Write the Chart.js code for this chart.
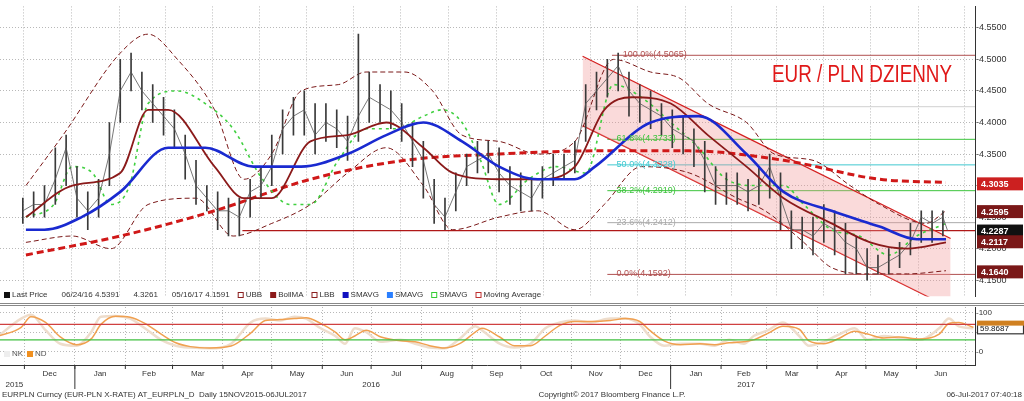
<!DOCTYPE html>
<html><head><meta charset="utf-8">
<script src="https://cdn.jsdelivr.net/npm/chart.js@4/dist/chart.umd.min.js"></script>
<style>
body{margin:0;background:#fff;width:1024px;height:401px;overflow:hidden;font-family:"Liberation Sans",Arial,sans-serif}
#a{position:absolute;left:0;top:0}
#b{position:absolute;left:0;top:303px}
</style></head><body>
<canvas id="a" width="1024" height="303"></canvas>
<canvas id="b" width="1024" height="98"></canvas>
<script>
// ---- data (x = days since 2015-11-15) ----
const weekStart = '2015-11-15';
const weeklyClose = [4.26,4.27,4.27,4.31,4.36,4.28,4.26,4.28,4.35,4.45,4.48,4.45,4.43,4.41,4.39,4.35,4.30,4.28,4.26,4.26,
 4.25,4.29,4.30,4.33,4.39,4.41,4.42,4.38,4.40,4.39,4.37,4.41,4.44,4.43,4.42,4.40,4.37,4.34,4.27,4.25,
 4.29,4.33,4.34,4.35,4.32,4.30,4.29,4.28,4.31,4.32,4.33,4.34,4.43,4.45,4.47,4.49,4.45,4.43,4.42,4.41,
 4.39,4.38,4.37,4.34,4.30,4.30,4.30,4.29,4.30,4.33,4.28,4.23,4.23,4.22,4.24,4.23,4.21,4.20,4.17,4.17,
 4.18,4.19,4.21,4.25,4.24,4.25];
const weeklyHigh = [4.28,4.29,4.30,4.36,4.38,4.33,4.29,4.31,4.40,4.50,4.51,4.48,4.46,4.44,4.42,4.38,4.34,4.30,4.29,4.28,
 4.28,4.31,4.33,4.38,4.42,4.44,4.45,4.43,4.43,4.42,4.41,4.54,4.48,4.46,4.45,4.43,4.40,4.37,4.31,4.28,
 4.32,4.35,4.37,4.37,4.36,4.33,4.32,4.31,4.33,4.35,4.35,4.37,4.46,4.48,4.50,4.51,4.48,4.46,4.45,4.43,
 4.42,4.41,4.39,4.37,4.33,4.32,4.32,4.31,4.33,4.35,4.32,4.26,4.25,4.25,4.27,4.26,4.24,4.22,4.20,4.19,
 4.20,4.21,4.24,4.26,4.26,4.26];
const weeklyLow = [4.24,4.25,4.25,4.27,4.30,4.25,4.23,4.25,4.30,4.40,4.45,4.42,4.40,4.38,4.36,4.31,4.27,4.26,4.23,4.22,
 4.22,4.25,4.28,4.30,4.35,4.38,4.38,4.35,4.37,4.36,4.34,4.37,4.40,4.40,4.39,4.37,4.33,4.28,4.24,4.23,
 4.26,4.30,4.32,4.32,4.29,4.27,4.26,4.26,4.28,4.30,4.31,4.32,4.37,4.42,4.44,4.45,4.41,4.40,4.39,4.38,
 4.36,4.35,4.33,4.29,4.27,4.27,4.27,4.26,4.27,4.28,4.23,4.20,4.20,4.19,4.21,4.19,4.16,4.16,4.15,4.16,
 4.16,4.17,4.19,4.21,4.21,4.22];
const lastDay = 598, lastPrice = 4.2287;

const smaShortDays = [2,32,63,81,94,124,143,161,186,210,235,259,278,308,333,357,376,394,419,443,468,492,523,548,572,597];
const smaShort = [4.25,4.30,4.32,4.42,4.42,4.33,4.28,4.28,4.37,4.38,4.40,4.36,4.32,4.31,4.31,4.33,4.42,4.44,4.43,4.38,4.33,4.28,4.24,4.21,4.20,4.21];
const smaMidDays = [2,14,38,63,94,118,149,180,210,235,259,284,308,333,357,370,406,437,468,492,523,554,578,597];
const smaMid = [4.23,4.23,4.25,4.29,4.36,4.36,4.33,4.33,4.35,4.38,4.40,4.37,4.33,4.31,4.31,4.33,4.40,4.41,4.35,4.29,4.26,4.235,4.215,4.215];
const smaLongDays = [2,63,124,186,247,308,370,431,492,554,597];
const smaLong = [4.19,4.22,4.26,4.31,4.34,4.35,4.355,4.355,4.34,4.31,4.305];
const maFastDays = [2,20,32,45,57,69,81,100,118,136,155,173,186,204,222,241,259,271,284,296,308,327,345,364,382,400,419,437,455,474,492,505,523,541,560,578,597];
const maFast = [4.25,4.27,4.33,4.32,4.27,4.30,4.43,4.45,4.43,4.39,4.31,4.27,4.27,4.34,4.39,4.39,4.41,4.42,4.40,4.34,4.27,4.31,4.33,4.32,4.46,4.44,4.40,4.36,4.31,4.30,4.30,4.27,4.23,4.22,4.19,4.22,4.24];
const bbUpDays = [2,26,63,81,100,124,143,161,180,204,222,247,265,284,308,333,357,382,406,425,443,468,486,511,535,554,584,597];
const bbUp = [4.30,4.38,4.51,4.54,4.50,4.42,4.31,4.35,4.45,4.46,4.48,4.48,4.45,4.38,4.37,4.35,4.37,4.50,4.48,4.47,4.43,4.40,4.35,4.34,4.30,4.27,4.24,4.26];
const bbLowDays = [2,32,57,81,112,136,161,186,210,235,259,278,308,333,357,376,400,431,462,480,505,523,548,572,597];
const bbLow = [4.21,4.22,4.20,4.27,4.28,4.22,4.24,4.27,4.32,4.36,4.30,4.23,4.25,4.26,4.23,4.27,4.33,4.32,4.28,4.26,4.21,4.17,4.16,4.16,4.165];
const channelDays = [362,600];
const channelUpper = [4.505,4.216];
const channelLower = [4.395,4.106];
const fibLevels = [4.5065,4.3733,4.3328,4.2919,4.2412,4.1592];
const fibLabels = ['100.0%(4.5065)','61.8%(4.3733)','50.0%(4.3328)','38.2%(4.2919)','23.6%(4.2412)','0.0%(4.1592)'];
const fibColors = ['#b05050','#3cc43c','#40c8d0','#3cc43c','#aaaaaa','#b05050'];
const supportLevel = 4.2287, supportStartDay = 142;
const yTicks = [4.15,4.20,4.25,4.30,4.35,4.40,4.45,4.50,4.55];
const tagValues = [4.3035,4.2595,4.2287,4.2117,4.1640];
const tagColors = ['#cc2020','#7a1818','#111111','#7a1818','#7a1818'];
const stochDays = [0,14,20,29,38,48,57,63,72,81,90,100,109,118,130,143,155,164,173,182,189,198,207,213,219,226,235,247,256,265,274,284,293,297,308,317,327,336,345,354,364,376,385,394,400,409,419,431,440,449,458,464,473,482,492,498,507,517,526,534,544,553,566,578,584,590,599];
const stochK = [40,85,95,55,20,15,50,90,92,85,60,30,15,10,8,20,75,85,80,90,85,60,40,20,60,50,25,30,20,10,8,35,65,55,20,10,20,60,75,80,75,85,85,70,40,15,20,20,15,30,20,40,55,75,40,15,25,45,60,30,40,35,30,60,85,65,60];
const monthNames = ['Dec','Jan','Feb','Mar','Apr','May','Jun','Jul','Aug','Sep','Oct','Nov','Dec','Jan','Feb','Mar','Apr','May','Jun'];
const monthStarts = ['2015-12-01','2016-01-01','2016-02-01','2016-03-01','2016-04-01','2016-05-01','2016-06-01','2016-07-01','2016-08-01','2016-09-01','2016-10-01','2016-11-01','2016-12-01','2017-01-01','2017-02-01','2017-03-01','2017-04-01','2017-05-01','2017-06-01','2017-07-01'];
const yearLabels = ['2015','2016','2017'];

// ---- helpers ----
const day = s => (Date.parse(s)-Date.parse(weekStart))/864e5;
const pts = (xs,ys)=>xs.map((x,i)=>({x,y:ys[i]}));
const closePts = weeklyClose.map((v,i)=>({x:i*7,y:v})).concat([{x:lastDay,y:lastPrice}]);
const rangeBars = weeklyClose.map((v,i)=>({x:i*7,y:[weeklyLow[i],weeklyHigh[i]]}));
const mStarts = monthStarts.map(day);
const XMIN=1, XMAX=600, RW=49;
const fontSm = '8px "Liberation Sans", Arial';
const gridC = '#b8b8b8';

const line = (data,color,w,dash,extra)=>Object.assign({type:'line',data,borderColor:color,borderWidth:w,borderDash:dash||[],pointRadius:0,tension:0.3,cubicInterpolationMode:'monotone',fill:false},extra||{});

const mainPlugin = {
 id:'mainP',
 beforeDatasetsDraw(c){
  const {ctx,scales:{x,y},chartArea:a}=c;
  ctx.save();
  fibLevels.forEach((v,i)=>{ctx.strokeStyle=fibColors[i];ctx.lineWidth=1;ctx.beginPath();
   ctx.moveTo(x.getPixelForValue(i==0?381:378),y.getPixelForValue(v));ctx.lineTo(a.right,y.getPixelForValue(v));ctx.stroke();});
  ctx.strokeStyle='#d0d0d0';ctx.beginPath();ctx.moveTo(x.getPixelForValue(365),y.getPixelForValue(4.425));ctx.lineTo(a.right,y.getPixelForValue(4.425));ctx.stroke();
  ctx.strokeStyle='#b01818';ctx.lineWidth=1.3;ctx.beginPath();ctx.moveTo(x.getPixelForValue(supportStartDay),y.getPixelForValue(supportLevel));ctx.lineTo(a.right,y.getPixelForValue(supportLevel));ctx.stroke();
  ctx.restore();
 },
 afterDraw(c){
  const {ctx,scales:{x,y},chartArea:a}=c;
  ctx.save();
  ctx.font='9px "Liberation Sans", Arial';ctx.textBaseline='bottom';
  fibLabels.forEach((t,i)=>{ctx.fillStyle=i==0?'#b05050':fibColors[i];ctx.fillText(t,x.getPixelForValue(i==0?388:384),y.getPixelForValue(fibLevels[i])+4);});
  ctx.fillStyle='#e01818';ctx.font='22px "Liberation Sans", Arial';ctx.textBaseline='middle';
  const tt='EUR / PLN DZIENNY', tw=ctx.measureText(tt).width;
  ctx.save();ctx.translate(772,75);ctx.scale(180/tw,1.1);ctx.fillText(tt,0,0);ctx.restore();
  ctx.font='bold 9px "Liberation Sans", Arial';
  tagValues.forEach((v,i)=>{const py=y.getPixelForValue(v);ctx.fillStyle=tagColors[i];ctx.fillRect(a.right+2,py-6,46,13);
   ctx.fillStyle='#fff';ctx.textAlign='left';ctx.fillText(v.toFixed(4),a.right+6,py+1);});
  ctx.font=fontSm;ctx.textAlign='left';ctx.textBaseline='middle';
  const items=[['Last Price','#111'],['06/24/16 4.5391',null],['4.3261',null],['05/16/17 4.1591',null],['UBB','#fff','#8b2020'],['BollMA','#8b1a1a'],['LBB','#fff','#8b2020'],['SMAVG','#1010c0'],['SMAVG','#2a7fff'],['SMAVG','#fff','#3c3'],['Moving Average','#fff','#c03030']];
  let px=4;const ly=295;
  items.forEach(it=>{if(it[1]){ctx.fillStyle=it[1];ctx.fillRect(px,ly-3,6,6);if(it[2]){ctx.strokeStyle=it[2];ctx.strokeRect(px+.5,ly-2.5,5,5);}px+=8;}else{px+=6;}
   ctx.fillStyle='#333';ctx.fillText(it[0],px,ly);px+=ctx.measureText(it[0]).width+8;});
  ctx.restore();
 }
};

new Chart(document.getElementById('a'),{
 data:{datasets:[
  line(pts(smaMidDays,smaMid),'#1a2ad0',2.6),
  line(pts(smaShortDays,smaShort),'#8b1a1a',1.8),
  line(closePts,'#555',0.8,[],{tension:0,cubicInterpolationMode:'default'}),
  {type:'bar',data:rangeBars,backgroundColor:'#3a3a3a',barThickness:1,grouped:false},
  line(pts(maFastDays,maFast),'#40d040',1.6,[3,4]),
  line(pts(smaLongDays,smaLong),'#d01818',3,[7,4]),
  line(pts(bbUpDays,bbUp),'#7a1818',1,[5,3]),
  line(pts(bbLowDays,bbLow),'#7a1818',1,[5,3]),
  line(pts(channelDays,channelUpper),'#d42020',1.2,[],{tension:0,fill:'+1',backgroundColor:'rgba(240,150,150,0.35)'}),
  line(pts(channelDays,channelLower),'#d42020',1.2,[],{tension:0}),
 ]},
 options:{responsive:false,animation:false,
  layout:{padding:0},
  plugins:{legend:{display:false},tooltip:{enabled:false}},
  scales:{
   x:{type:'linear',min:XMIN,max:XMAX,
     afterBuildTicks:s=>{s.ticks=mStarts.map(v=>({value:v}));},
     ticks:{display:false},grid:{color:gridC,drawTicks:false},border:{display:false,dash:[1,2]}},
   y:{position:'right',min:4.124,max:4.584,
     afterBuildTicks:s=>{s.ticks=yTicks.map(v=>({value:v}));},
     afterFit:s=>{s.width=RW;},
     ticks:{callback:v=>'-'+v.toFixed(4),font:{size:9},color:'#333',padding:1},
     grid:{color:gridC,drawTicks:false},border:{color:'#333',dash:[1,2]}}
  }},
 plugins:[mainPlugin]
});

const oscPlugin={id:'oscP',
 beforeDraw(c){const{ctx}=c;ctx.save();ctx.fillStyle='#888';ctx.fillRect(0,0,1024,1);ctx.fillRect(0,2,1024,1);ctx.restore();},
 afterDraw(c){
  const {ctx,scales:{x,y},chartArea:a}=c;
  ctx.save();
  ctx.strokeStyle='#333';ctx.beginPath();ctx.moveTo(a.right+.5,a.top);ctx.lineTo(a.right+.5,a.bottom);ctx.stroke();
  ctx.strokeStyle='#d04040';ctx.lineWidth=1.2;ctx.beginPath();ctx.moveTo(a.left,y.getPixelForValue(70));ctx.lineTo(a.right,y.getPixelForValue(70));ctx.stroke();
  ctx.strokeStyle='#40c040';ctx.beginPath();ctx.moveTo(a.left,y.getPixelForValue(30));ctx.lineTo(a.right,y.getPixelForValue(30));ctx.stroke();
  ctx.font=fontSm;ctx.fillStyle='#333';ctx.textBaseline='middle';
  [0,50,100].forEach(v=>ctx.fillText('-'+v,a.right+1,y.getPixelForValue(v)));
  ctx.fillStyle='#fff';ctx.fillRect(a.right+2,y.getPixelForValue(59.87)-6,47,12);ctx.strokeStyle='#333';ctx.strokeRect(a.right+2.5,y.getPixelForValue(59.87)-5.5,46,11);
  ctx.fillStyle='#d08020';ctx.fillRect(a.right+2,y.getPixelForValue(72)-3,47,5);
  ctx.fillStyle='#111';ctx.fillText('59.8687',a.right+5,y.getPixelForValue(59.87));
  ctx.fillStyle='#eee';ctx.fillRect(4,a.bottom-14,6,6);ctx.fillStyle='#555';ctx.fillText('NK',12,a.bottom-11);
  ctx.fillStyle='#f09020';ctx.fillRect(27,a.bottom-14,6,6);ctx.fillStyle='#555';ctx.fillText('ND',35,a.bottom-11);
  ctx.strokeStyle='#333';ctx.lineWidth=1;ctx.beginPath();ctx.moveTo(0,a.bottom+.5);ctx.lineTo(a.right,a.bottom+.5);ctx.stroke();
  ctx.textAlign='center';ctx.fillStyle='#333';
  monthNames.forEach((m,i)=>{const x0=x.getPixelForValue(mStarts[i]);ctx.beginPath();ctx.moveTo(x0,a.bottom);ctx.lineTo(x0,a.bottom+4);ctx.stroke();
   ctx.fillText(m,(x0+x.getPixelForValue(mStarts[i+1]))/2,a.bottom+9);});
  const yr=[[x.getPixelForValue(mStarts[0])-10,yearLabels[0]],[x.getPixelForValue(mStarts[7]),yearLabels[1]],[x.getPixelForValue(mStarts[14])+25,yearLabels[2]]];
  yr.forEach(([p,t])=>ctx.fillText(t,p,a.bottom+20));
  [mStarts[1],mStarts[13]].forEach(d=>{const p=x.getPixelForValue(d);ctx.beginPath();ctx.moveTo(p,a.bottom);ctx.lineTo(p,a.bottom+24);ctx.stroke();});
  ctx.textAlign='left';ctx.fillText('EURPLN Curncy (EUR-PLN X-RATE) AT_EURPLN_D  Daily 15NOV2015-06JUL2017',2,92);
  ctx.textAlign='center';ctx.fillText('Copyright© 2017 Bloomberg Finance L.P.',612,92);
  ctx.textAlign='right';ctx.fillText('06-Jul-2017 07:40:18',1022,92);
  ctx.restore();
 }};

new Chart(document.getElementById('b'),{
 data:{datasets:[
  line(pts(stochDays,stochK.map((v,i)=>i?(v+stochK[i-1])/2:v)),'#f0a050',1.5),
  line(pts(stochDays,stochK),'#eeddcc',2.5)
 ]},
 options:{responsive:false,animation:false,
  layout:{padding:{top:4,bottom:36}},
  plugins:{legend:{display:false},tooltip:{enabled:false}},
  scales:{
   x:{type:'linear',min:XMIN,max:XMAX,afterBuildTicks:s=>{s.ticks=mStarts.map(v=>({value:v}));},ticks:{display:false},grid:{color:gridC,drawTicks:false},border:{display:false,dash:[1,2]}},
   y:{position:'right',min:-35,max:115,afterBuildTicks:s=>{s.ticks=[0,50,100].map(v=>({value:v}));},afterFit:s=>{s.width=RW;},ticks:{display:false},grid:{color:gridC,drawTicks:false},border:{color:'#333',dash:[1,2]}}
  }},
 plugins:[oscPlugin]
});
</script></body></html>
